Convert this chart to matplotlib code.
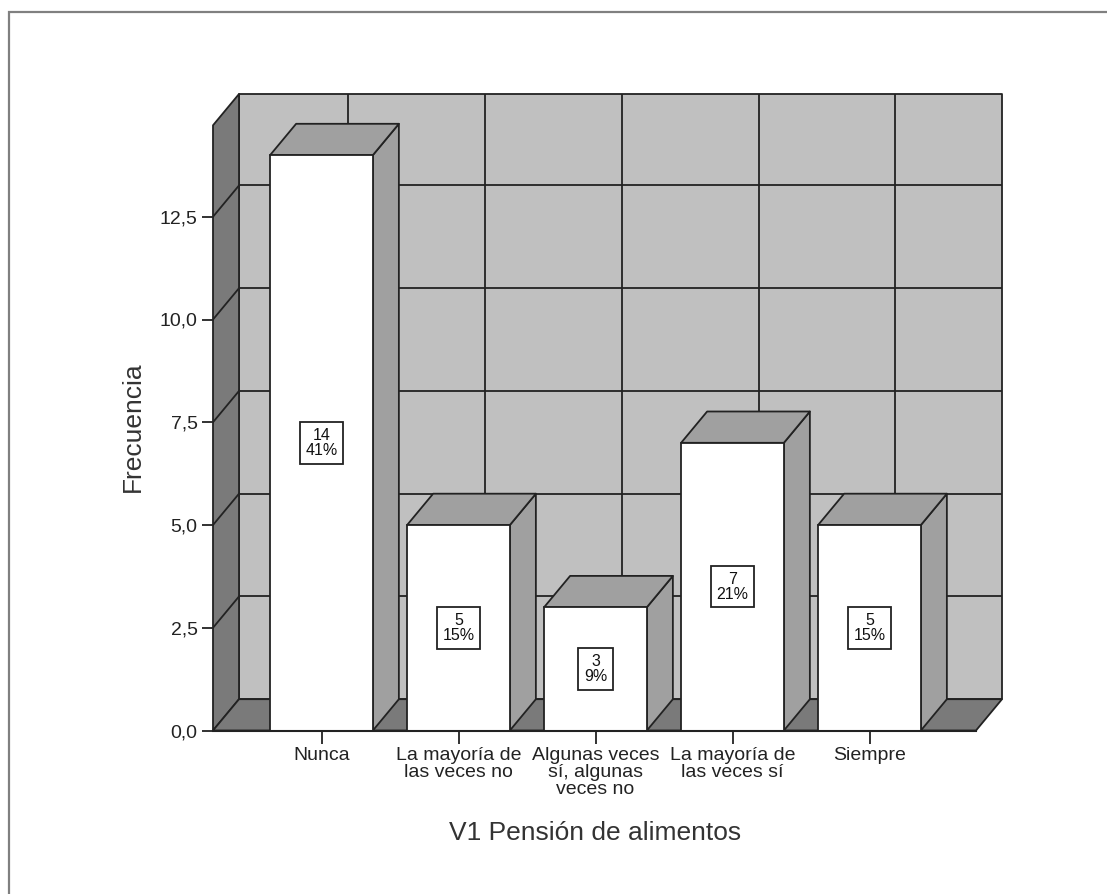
"""
3d looking bar chart of V1 Pension de alimentos, drawn with flat polygons
"""
import matplotlib
matplotlib.use("Agg")
import matplotlib.pyplot as plt
from matplotlib.patches import Polygon, Rectangle

categories = ["Nunca", "La mayoría de\nlas veces no", "Algunas veces\nsí, algunas\nveces no",
              "La mayoría de\nlas veces sí", "Siempre"]
counts = [14, 5, 3, 7, 5]
percents = ["41%", "15%", "9%", "21%", "15%"]
y_ticks = [0, 2.5, 5, 7.5, 10, 12.5]
y_tick_labels = ["0,0", "2,5", "5,0", "7,5", "10,0", "12,5"]

W, H = 1107, 894
LINE = "#222222"
LW = 1.3
bar_w = 0.75
dx = 26 / 137     # depth of the box in data units
dy = 31.3 / 41.1
x_min = -108.5 / 137
x_max = 680.5 / 137
wall_top = (636.5 - 31.3) / 41.1

plt.rcParams["font.family"] = ["Liberation Sans", "DejaVu Sans"]

fig = plt.figure(figsize=(W / 100, H / 100), dpi=100)
ax = fig.add_axes([213 / W, 1 - 730.5 / H, 789 / W, 636.5 / H])
ax.set_xlim(x_min, x_max)
ax.set_ylim(0, wall_top + dy)
for s in ax.spines.values():
    s.set_visible(False)


def poly(points, color, z):
    ax.add_patch(Polygon(points, closed=True, facecolor=color, edgecolor=LINE,
                         linewidth=LW, joinstyle="round", clip_on=False, zorder=z))


# back wall, left wall, floor
x_right = x_max - dx
poly([(x_min + dx, dy), (x_max, dy), (x_max, wall_top + dy), (x_min + dx, wall_top + dy)], "#C0C0C0", 1)
poly([(x_min, 0), (x_min + dx, dy), (x_min + dx, wall_top + dy), (x_min, wall_top)], "#7A7A7A", 3)
poly([(x_min, 0), (x_right, 0), (x_max, dy), (x_min + dx, dy)], "#7A7A7A", 3)

# grid on the walls
for t in y_ticks[1:]:
    ax.plot([x_min + dx, x_max], [t + dy, t + dy], color=LINE, lw=LW, zorder=2)
    ax.plot([x_min, x_min + dx], [t, t + dy], color=LINE, lw=LW, zorder=4)
for i in range(len(counts)):
    ax.plot([i + dx, i + dx], [dy, wall_top + dy], color=LINE, lw=LW, zorder=2)

# bars
for i, v in enumerate(counts):
    l, r = i - bar_w / 2, i + bar_w / 2
    poly([(r, 0), (r + dx, dy), (r + dx, v + dy), (r, v)], "#A0A0A0", 5)
    poly([(l, v), (r, v), (r + dx, v + dy), (l + dx, v + dy)], "#A0A0A0", 5)
ax.bar(range(len(counts)), counts, bar_w, color="white", edgecolor=LINE, linewidth=LW, zorder=6)

for i, v in enumerate(counts):
    ax.text(i, v / 2, f"{v}\n{percents[i]}", ha="center", va="center", fontsize=11.5, color="#111111",
            linespacing=1.0, zorder=7,
            bbox=dict(boxstyle="square,pad=0.36", facecolor="white", edgecolor=LINE, linewidth=LW))

# front bottom edge on top of everything
ax.plot([x_min, x_right], [0, 0], color=LINE, lw=LW + 0.2, zorder=8, clip_on=False)

ax.set_yticks(y_ticks)
ax.set_yticklabels(y_tick_labels, fontsize=14, color="#222222")
ax.set_xticks(range(len(categories)))
ax.set_xticklabels(categories, fontsize=14, color="#222222", linespacing=0.98)
ax.tick_params(axis="y", length=8, width=LW, color=LINE, pad=3)
ax.tick_params(axis="x", length=9, width=LW, color=LINE, pad=3)

fig.text(133 / W, 1 - 427 / H, "Frecuencia", rotation=90, ha="center", va="center", fontsize=19, color="#333333")
fig.text(595 / W, 1 - 833 / H, "V1 Pensión de alimentos", ha="center", va="center", fontsize=19, color="#333333")

# outer frame, only left and top show
fig.add_artist(Rectangle((8.5 / W, -0.1), 1.1, 1.1 - 12.5 / H, transform=fig.transFigure,
                         facecolor="none", edgecolor="#808080", linewidth=1.6))

plt.savefig("out.png", dpi=100)
